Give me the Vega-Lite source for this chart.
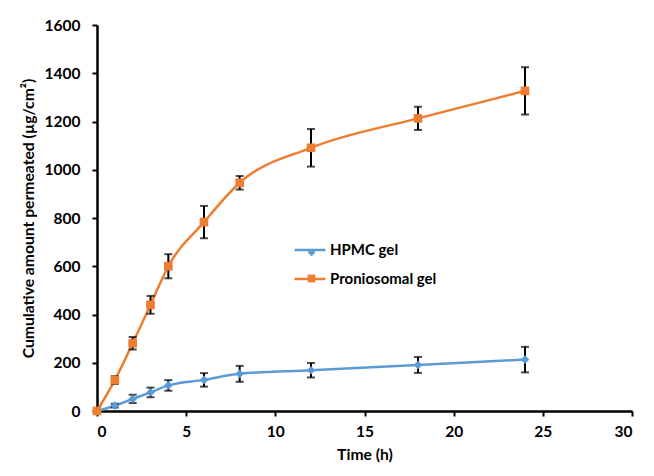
{
  "$schema": "https://vega.github.io/schema/vega-lite/v6.json",
  "width": 535,
  "height": 386,
  "autosize": "none",
  "padding": {"left": 97, "top": 25, "right": 22, "bottom": 65},
  "background": "white",
  "config": {
    "view": {"stroke": null},
    "font": "Lato",
    "axis": {
      "grid": false,
      "domainColor": "black",
      "domainWidth": 2.5,
      "tickColor": "black",
      "tickWidth": 2,
      "tickSize": 5,
      "labelColor": "black",
      "labelFont": "Lato",
      "labelFontSize": 15.5,
      "labelFontWeight": "bold",
      "titleColor": "black",
      "titleFont": "Lato",
      "titleFontSize": 15.7,
      "titleFontWeight": "bold"
    }
  },
  "data": {
    "values": [
      {"t": 0, "series": "HPMC gel", "v": 0, "lo": 0, "hi": 0},
      {"t": 1, "series": "HPMC gel", "v": 22, "lo": 14, "hi": 30},
      {"t": 2, "series": "HPMC gel", "v": 50, "lo": 33, "hi": 67},
      {"t": 3, "series": "HPMC gel", "v": 77, "lo": 57, "hi": 97},
      {"t": 4, "series": "HPMC gel", "v": 106, "lo": 84, "hi": 128},
      {"t": 6, "series": "HPMC gel", "v": 129, "lo": 101, "hi": 157},
      {"t": 8, "series": "HPMC gel", "v": 154, "lo": 121, "hi": 187},
      {"t": 12, "series": "HPMC gel", "v": 169, "lo": 139, "hi": 199},
      {"t": 18, "series": "HPMC gel", "v": 191, "lo": 158, "hi": 224},
      {"t": 24, "series": "HPMC gel", "v": 213, "lo": 160, "hi": 266},
      {"t": 0, "series": "Proniosomal gel", "v": 0, "lo": 0, "hi": 0},
      {"t": 1, "series": "Proniosomal gel", "v": 128, "lo": 112, "hi": 144},
      {"t": 2, "series": "Proniosomal gel", "v": 281, "lo": 255, "hi": 307},
      {"t": 3, "series": "Proniosomal gel", "v": 440, "lo": 403, "hi": 477},
      {"t": 4, "series": "Proniosomal gel", "v": 600, "lo": 550, "hi": 650},
      {"t": 6, "series": "Proniosomal gel", "v": 783, "lo": 716, "hi": 850},
      {"t": 8, "series": "Proniosomal gel", "v": 946, "lo": 918, "hi": 974},
      {"t": 12, "series": "Proniosomal gel", "v": 1091, "lo": 1013, "hi": 1169},
      {"t": 18, "series": "Proniosomal gel", "v": 1213, "lo": 1165, "hi": 1261},
      {"t": 24, "series": "Proniosomal gel", "v": 1327, "lo": 1229, "hi": 1425}
    ]
  },
  "encoding": {
    "x": {
      "field": "t",
      "type": "quantitative",
      "title": "Time (h)",
      "scale": {"domain": [0, 30], "nice": false},
      "axis": {"values": [0, 5, 10, 15, 20, 25, 30], "title": "Time (h)", "labelPadding": 8, "titlePadding": 8}
    }
  },
  "layer": [
    {
      "transform": [{"calculate": "datum.series", "as": "gel"}],
      "mark": {"type": "line", "interpolate": "monotone", "strokeWidth": 2.5},
      "encoding": {
        "y": {
          "field": "v",
          "type": "quantitative",
          "title": "Cumulative amount permeated (µg/cm²)",
          "scale": {"domain": [0, 1600], "nice": false},
          "axis": {"values": [0, 200, 400, 600, 800, 1000, 1200, 1400, 1600], "format": "d", "title": "Cumulative amount permeated (µg/cm²)", "labelPadding": 12, "titlePadding": 8}
        },
        "stroke": {
          "field": "gel",
          "type": "nominal",
          "scale": {"range": ["#5B9BD5", "#ED7D31"]},
          "legend": {
            "title": null,
            "orient": "none",
            "legendX": 196,
            "legendY": 208,
            "padding": 0,
            "symbolType": "stroke",
            "symbolSize": 961,
            "symbolStrokeWidth": 2.5,
            "labelOffset": 3,
            "labelFont": "Lato",
            "labelFontSize": 15,
            "labelFontWeight": "bold",
            "labelColor": "black",
            "rowPadding": 4
          }
        }
      }
    },
    {
      "mark": {"type": "errorbar", "ticks": {"size": 8, "thickness": 2, "color": "black"}, "rule": {"color": "black", "strokeWidth": 2}},
      "encoding": {
        "y": {"field": "lo", "type": "quantitative", "title": "Cumulative amount permeated (µg/cm²)"},
        "y2": {"field": "hi"}
      }
    },
    {
      "mark": {"type": "point", "filled": true, "opacity": 1, "size": 75},
      "encoding": {
        "y": {"field": "v", "type": "quantitative", "title": "Cumulative amount permeated (µg/cm²)"},
        "fill": {
          "field": "series",
          "type": "nominal",
          "scale": {"domain": ["HPMC gel", "Proniosomal gel"], "range": ["#5B9BD5", "#ED7D31"]},
          "legend": {
            "title": null,
            "orient": "none",
            "legendX": 207,
            "legendY": 220,
            "padding": 0,
            "symbolSize": 60,
            "labelExpr": "' '",
            "labelColor": "transparent",
            "labelFont": "Lato",
            "labelFontSize": 15,
            "labelFontWeight": "bold",
            "rowPadding": 10
          }
        },
        "shape": {
          "field": "series",
          "type": "nominal",
          "scale": {"domain": ["HPMC gel", "Proniosomal gel"], "range": ["diamond", "square"]},
          "legend": {
            "title": null,
            "orient": "none",
            "legendX": 207,
            "legendY": 220,
            "padding": 0,
            "symbolSize": 60,
            "labelExpr": "' '",
            "labelColor": "transparent",
            "labelFont": "Lato",
            "labelFontSize": 15,
            "labelFontWeight": "bold",
            "rowPadding": 10
          }
        }
      }
    }
  ]
}
